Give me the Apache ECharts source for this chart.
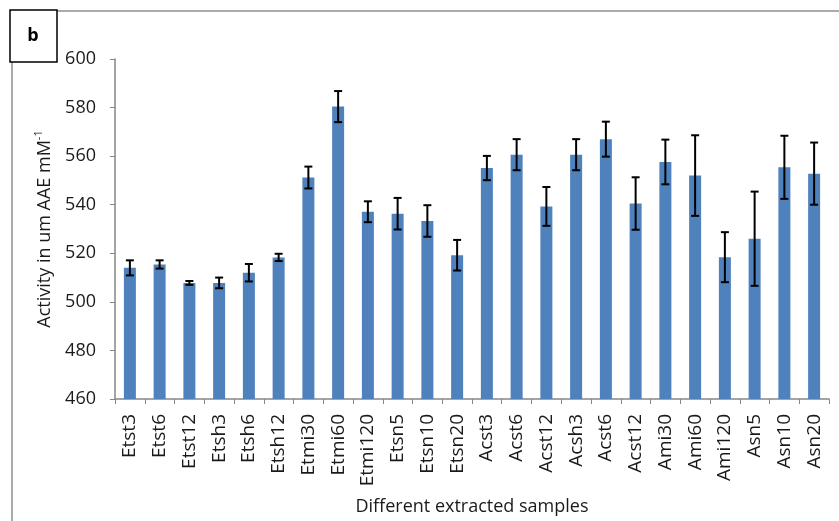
<!DOCTYPE html>
<html>
<head>
<meta charset="utf-8">
<script src="https://cdn.jsdelivr.net/npm/echarts@6/dist/echarts.min.js"></script>
<style>
  html, body { margin: 0; padding: 0; background: #ffffff; }
  #chart { width: 839px; height: 521px; }
</style>
</head>
<body>
<div id="chart"></div>
<script>
// Sample names along the x axis
const categories = ['Etst3', 'Etst6', 'Etst12', 'Etsh3', 'Etsh6', 'Etsh12', 'Etmi30', 'Etmi60',
  'Etmi120', 'Etsn5', 'Etsn10', 'Etsn20', 'Acst3', 'Acst6', 'Acst12', 'Acsh3', 'Acst6', 'Acst12',
  'Ami30', 'Ami60', 'Ami120', 'Asn5', 'Asn10', 'Asn20'];

// Mean activity (um AAE mM-1)
const activity = [514.0, 515.4, 507.8, 507.8, 512.0, 518.3, 551.2, 580.4, 537.1, 536.3, 533.3, 519.2,
  555.1, 560.6, 539.3, 560.6, 567.0, 540.5, 557.6, 552.0, 518.4, 526.0, 555.4, 552.8];

// Standard deviation for each sample
const deviation = [3.1, 1.7, 0.8, 2.2, 3.6, 1.5, 4.5, 6.4, 4.3, 6.5, 6.5, 6.3,
  5.0, 6.4, 8.0, 6.4, 7.2, 10.8, 9.2, 16.6, 10.3, 19.4, 13.0, 12.8];

// Value axis ticks
const yTicks = [460, 480, 500, 520, 540, 560, 580, 600];

const FONT = '"Open Sans", "DejaVu Sans", sans-serif';
const TEXT = '#1a1a1a';

const errorData = activity.map((v, i) => [i, v - deviation[i], v + deviation[i]]);

const chart = echarts.init(document.getElementById('chart'));
chart.setOption({
  animation: false,
  backgroundColor: '#ffffff',
  graphic: [
    {
      type: 'polyline',
      z: 10,
      shape: { points: [[12, 600], [12, 11], [900, 11]] },
      style: { stroke: '#ababab', lineWidth: 2, fill: null }
    },
    {
      type: 'rect',
      z: 11,
      shape: { x: 10, y: 10, width: 47, height: 52 },
      style: { fill: '#ffffff', stroke: '#000000', lineWidth: 1.5 }
    },
    {
      type: 'text',
      z: 12,
      x: 33, y: 36,
      style: {
        text: 'b', font: 'bold 18px ' + FONT, fill: '#000000',
        align: 'center', verticalAlign: 'middle'
      }
    }
  ],
  grid: { left: 115, right: 10, top: 59, bottom: 120, containLabel: false },
  xAxis: {
    type: 'category',
    data: categories,
    boundaryGap: true,
    name: 'Different extracted samples',
    nameLocation: 'middle',
    nameGap: 99,
    nameTextStyle: { fontFamily: FONT, fontSize: 18, color: TEXT },
    axisLine: { lineStyle: { color: '#868686', width: 1.5 } },
    axisTick: { show: true, length: 5, alignWithLabel: false, lineStyle: { color: '#868686' } },
    axisLabel: {
      interval: 0, rotate: 90, margin: 15,
      fontFamily: FONT, fontSize: 19, color: TEXT
    },
    splitLine: { show: false }
  },
  yAxis: {
    type: 'value',
    min: yTicks[0],
    max: yTicks[yTicks.length - 1],
    interval: yTicks[1] - yTicks[0],
    name: '{n|Activity in um AAE mM}{s|-1}',
    nameLocation: 'middle',
    nameGap: 58,
    nameRotate: 90,
    nameTextStyle: {
      fontFamily: FONT, fontSize: 18, color: TEXT,
      rich: {
        n: { fontFamily: FONT, fontSize: 18, color: TEXT, lineHeight: 24 },
        s: { fontFamily: FONT, fontSize: 11, color: TEXT, verticalAlign: 'top', lineHeight: 24 }
      }
    },
    axisLine: { show: true, lineStyle: { color: '#868686', width: 1.5 } },
    axisTick: { show: true, length: 5, lineStyle: { color: '#868686' } },
    axisLabel: { margin: 19, fontFamily: FONT, fontSize: 18, color: TEXT },
    splitLine: { show: false }
  },
  series: [
    {
      type: 'bar',
      data: activity,
      barWidth: 12,
      itemStyle: { color: '#4f81bd' },
      z: 2
    },
    {
      type: 'custom',
      data: errorData,
      encode: { x: 0, y: [1, 2] },
      z: 3,
      renderItem: function (params, api) {
        const idx = api.value(0);
        const low = api.coord([idx, api.value(1)]);
        const high = api.coord([idx, api.value(2)]);
        const half = 4;
        const style = { stroke: '#000000', lineWidth: 2, fill: null };
        return {
          type: 'group',
          children: [
            { type: 'line', shape: { x1: high[0], y1: high[1], x2: low[0], y2: low[1] }, style: style },
            { type: 'line', shape: { x1: high[0] - half, y1: high[1], x2: high[0] + half, y2: high[1] }, style: style },
            { type: 'line', shape: { x1: low[0] - half, y1: low[1], x2: low[0] + half, y2: low[1] }, style: style }
          ]
        };
      }
    }
  ]
});
</script>
</body>
</html>
